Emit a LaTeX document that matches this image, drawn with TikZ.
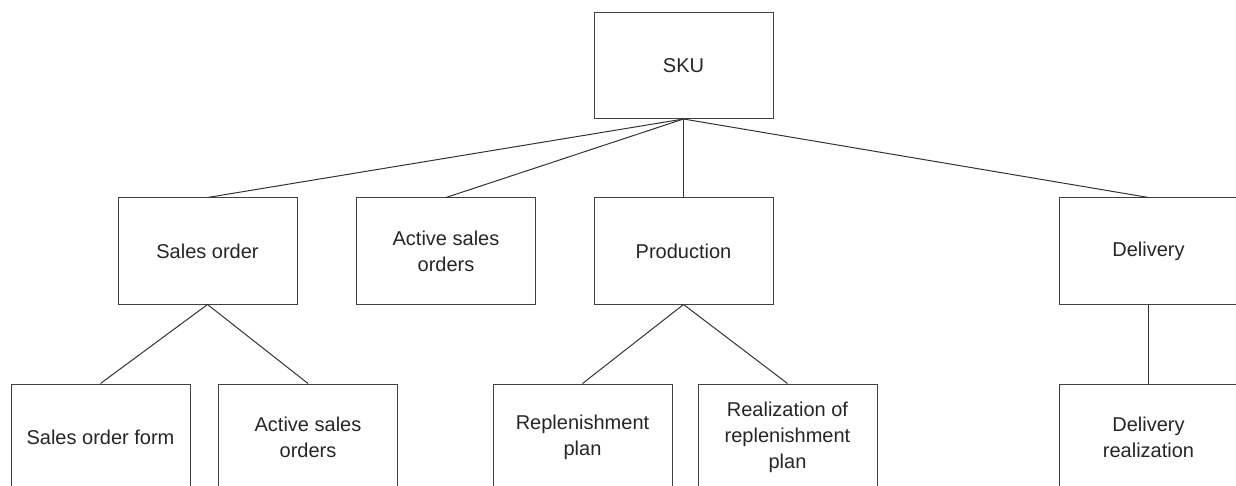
\documentclass[tikz,border=0pt]{standalone}
\usepackage{fontspec}
\setmainfont{Liberation Sans}
\begin{document}
\begin{tikzpicture}[x=1pt,y=-1pt,
  box/.style={draw=black!75, line width=1pt, fill=white, minimum width=179pt, minimum height=106pt,
    align=center, inner sep=0pt, font=\fontsize{20}{26}\selectfont, text=black!85},
  link/.style={draw=black!80, line width=1pt}]
\useasboundingbox (0,0) rectangle (1236,486);
\clip (0,0) rectangle (1236,486);
\node[box] (sku) at (683.5,65.5) {SKU};
\node[box] (so) at (207.5,251) {Sales order};
\node[box] (aso) at (446,251) {Active sales\\orders};
\node[box] (prod) at (683.5,251) {Production};
\node[box] (del) at (1148.5,251) {Delivery};
\node[box] (sof) at (100.5,437) {Sales order form};
\node[box] (aso2) at (308,437) {Active sales\\orders};
\node[box] (rp) at (582.5,437) {Replenishment\\plan};
\node[box] (rrp) at (787.5,437) {Realization of\\replenishment\\plan};
\node[box] (dr) at (1148.5,437) {Delivery\\realization};
\draw[link] (sku.south) -- (so.north);
\draw[link] (sku.south) -- (aso.north);
\draw[link] (sku.south) -- (prod.north);
\draw[link] (sku.south) -- (del.north);
\draw[link] (so.south) -- (sof.north);
\draw[link] (so.south) -- (aso2.north);
\draw[link] (prod.south) -- (rp.north);
\draw[link] (prod.south) -- (rrp.north);
\draw[link] (del.south) -- (dr.north);
\end{tikzpicture}
\end{document}
